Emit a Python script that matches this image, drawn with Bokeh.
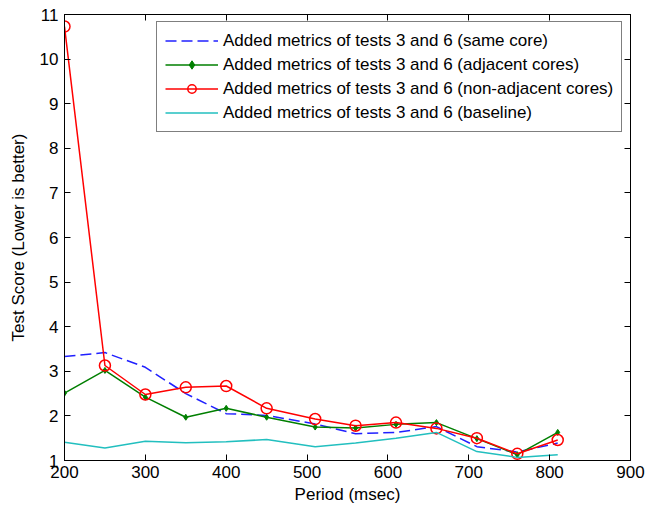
from bokeh.plotting import figure
from bokeh.models import Range1d, LinearAxis, FixedTicker, CustomJSTickFormatter, Legend, LegendItem
from bokeh.embed import file_html
from bokeh.resources import INLINE

period = [200, 250, 300, 350, 400, 450, 510, 560, 610, 660, 710, 760, 810]
same_core = [3.33, 3.42, 3.09, 2.50, 2.05, 2.01, 1.82, 1.60, 1.63, 1.76, 1.31, 1.19, 1.39]
adjacent = [2.51, 3.02, 2.42, 1.97, 2.17, 1.97, 1.75, 1.73, 1.81, 1.85, 1.49, 1.13, 1.63]
non_adjacent = [10.73, 3.13, 2.48, 2.64, 2.67, 2.17, 1.93, 1.78, 1.85, 1.72, 1.50, 1.15, 1.46]
baseline = [1.41, 1.28, 1.43, 1.40, 1.42, 1.47, 1.31, 1.39, 1.50, 1.63, 1.20, 1.07, 1.13]

labels = [
    "Added metrics of tests 3 and 6 (same core)",
    "Added metrics of tests 3 and 6 (adjacent cores)",
    "Added metrics of tests 3 and 6 (non-adjacent cores)",
    "Added metrics of tests 3 and 6 (baseline)",
]
x_ticks = [200, 300, 400, 500, 600, 700, 800, 900]
y_ticks = [1, 2, 3, 4, 5, 6, 7, 8, 9, 10, 11]

FONT = "Liberation Sans"
FS = "17px"

p = figure(width=661, height=511, output_backend="svg", toolbar_location=None,
           x_range=Range1d(200, 900), y_range=Range1d(1, 11),
           min_border_left=64, min_border_right=31, min_border_top=14, min_border_bottom=51)
p.background_fill_color = "white"
p.border_fill_color = "white"
p.outline_line_color = "black"
p.outline_line_width = 1
p.xgrid.visible = False
p.ygrid.visible = False

def style_axis(ax, ticks):
    ax.ticker = FixedTicker(ticks=ticks)
    ax.major_tick_in = 6
    ax.major_tick_out = 0
    ax.minor_tick_in = 0
    ax.minor_tick_out = 0
    ax.axis_line_color = "black"
    ax.major_tick_line_color = "black"
    ax.major_label_text_font = FONT
    ax.major_label_text_font_size = FS
    ax.major_label_text_color = "black"
    ax.axis_label_text_font = FONT
    ax.axis_label_text_font_size = FS
    ax.axis_label_text_font_style = "normal"
    ax.axis_label_text_color = "black"

style_axis(p.xaxis[0], x_ticks)
style_axis(p.yaxis[0], y_ticks)
p.xaxis[0].axis_label = "Period (msec)"
p.yaxis[0].axis_label = "Test Score (Lower is better)"
p.xaxis[0].major_label_standoff = 5
p.xaxis[0].axis_label_standoff = 4
p.yaxis[0].major_label_standoff = 6
p.yaxis[0].axis_label_standoff = 9

blank = CustomJSTickFormatter(code="return ''")
top = LinearAxis(formatter=blank)
right = LinearAxis(formatter=blank)
style_axis(top, x_ticks)
style_axis(right, y_ticks)
top.major_label_standoff = 0
right.major_label_standoff = 0
top.major_label_text_font_size = "1px"
right.major_label_text_font_size = "1px"
p.add_layout(top, "above")
p.add_layout(right, "right")

r1 = p.line(period, same_core, line_color="#2020FF", line_width=1.5, line_dash="11 5")
r2 = p.line(period, adjacent, line_color="#007F00", line_width=1.5)
r2m = p.scatter(period, adjacent, marker="diamond", size=6, fill_color="#007F00", line_color="#007F00")
r3 = p.line(period, non_adjacent, line_color="#FF0000", line_width=1.5)
r3m = p.scatter(period, non_adjacent, marker="circle", size=11, fill_color=None, line_color="#FF0000", line_width=1.5)
r4 = p.line(period, baseline, line_color="#22BFBF", line_width=1.5)

legend = Legend(items=[
    LegendItem(label=labels[0], renderers=[r1]),
    LegendItem(label=labels[1], renderers=[r2, r2m]),
    LegendItem(label=labels[2], renderers=[r3, r3m]),
    LegendItem(label=labels[3], renderers=[r4]),
], location=(92, 328))
legend.margin = 0
legend.padding = 8
legend.spacing = 3
legend.glyph_width = 53
legend.glyph_height = 21
legend.label_height = 21
legend.label_standoff = 5
legend.label_text_font = FONT
legend.label_text_font_size = FS
legend.label_text_color = "black"
legend.border_line_color = "black"
legend.border_line_width = 1
legend.background_fill_color = "white"
legend.background_fill_alpha = 1.0
p.add_layout(legend, "center")

open("out.html", "w").write(file_html(p, INLINE))
